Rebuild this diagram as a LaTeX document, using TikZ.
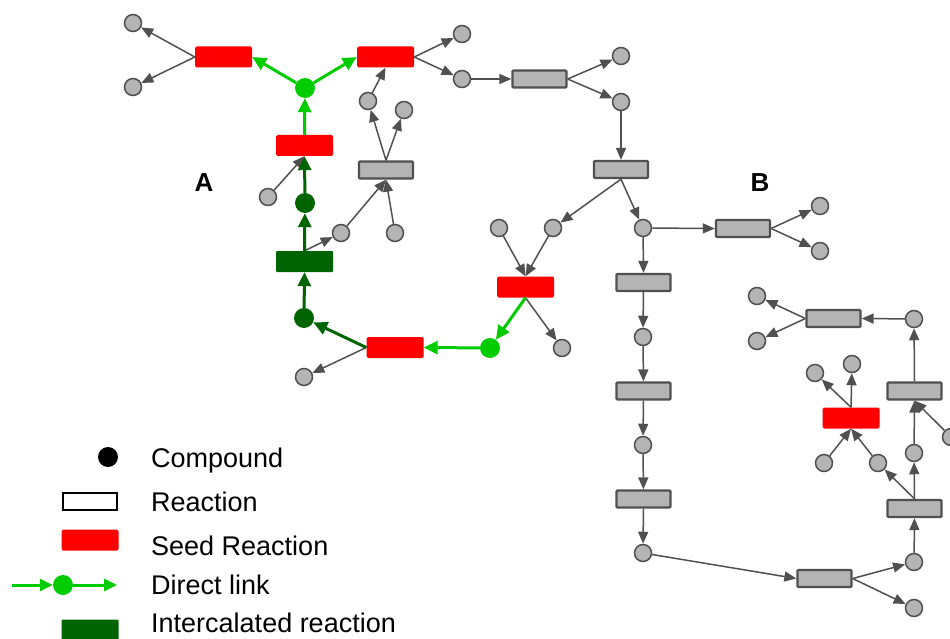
\documentclass[tikz,border=0pt]{standalone}
\usepackage{fontspec}
\setmainfont{Liberation Sans}
\usetikzlibrary{arrows.meta}
\definecolor{cgray}{RGB}{180,180,180}
\definecolor{cline}{RGB}{80,80,80}
\definecolor{seedred}{RGB}{255,0,0}
\definecolor{lgreen}{RGB}{0,204,0}
\definecolor{dgreen}{RGB}{0,100,0}
\begin{document}
\begin{tikzpicture}[x=1pt,y=-1pt,
  cpd/.style={circle,draw=cline,fill=cgray,line width=1.5pt,minimum size=17pt,inner sep=0pt},
  gcpd/.style={circle,fill=lgreen,minimum size=20pt,inner sep=0pt},
  dcpd/.style={circle,fill=dgreen,minimum size=20pt,inner sep=0pt},
  rxn/.style={rectangle,draw=cline,fill=cgray,line width=2.3pt,minimum width=54pt,minimum height=17pt,inner sep=0pt,rounded corners=1pt},
  seed/.style={rectangle,fill=seedred,minimum width=57pt,minimum height=21pt,inner sep=0pt,rounded corners=1.5pt},
  interc/.style={rectangle,fill=dgreen,minimum width=57pt,minimum height=21pt,inner sep=0pt,rounded corners=1pt},
  arr/.style={draw=cline,line width=1.5pt,-{Triangle[length=12pt,width=10pt]}},
  garr/.style={draw=lgreen,line width=3pt,-{Triangle[length=14pt,width=13pt]}},
  darr/.style={draw=dgreen,line width=3pt,-{Triangle[length=14pt,width=13pt]}},
  legtext/.style={anchor=base west,inner sep=0pt,font=\fontsize{27}{30}\selectfont},
  panel/.style={font=\bfseries\fontsize{26}{28}\selectfont,inner sep=0pt}
]
\clip (0,0) rectangle (950,639);

% ---- compounds and reactions of module A ----
\node[cpd] (c1) at (133,23) {};
\node[cpd] (c2) at (133,87) {};
\node[seed] (R1) at (223.5,57) {};
\node[seed] (R2) at (385.5,57) {};
\node[gcpd] (G1) at (305,88) {};
\node[seed] (R3) at (304.5,145.5) {};
\node[cpd] (c3) at (462,34) {};
\node[cpd] (c4) at (462,79) {};
\node[cpd] (c5) at (368,101) {};
\node[cpd] (c6) at (404,110) {};
\node[rxn] (R4) at (386,170) {};
\node[cpd] (c7) at (268,197) {};
\node[dcpd] (D1) at (305,203) {};
\node[cpd] (c8) at (341,233) {};
\node[cpd] (c9) at (395,233) {};
\node[interc] (IR) at (304.5,261.5) {};
\node[dcpd] (D2) at (304,318) {};
\node[seed] (R5) at (395,347.5) {};
\node[cpd] (c10) at (304,377) {};
\node[gcpd] (G2) at (490,348) {};
\node[seed] (R6) at (525.5,287) {};
\node[cpd] (c11) at (562,348) {};
\node[cpd] (c12) at (499,228) {};
\node[cpd] (c13) at (553,228) {};

% ---- the path towards module B ----
\node[rxn] (R7) at (539.5,79) {};
\node[cpd] (c14) at (621,56) {};
\node[cpd] (c15) at (621,102) {};
\node[rxn] (R8) at (621,169.5) {};
\node[cpd] (c16) at (643,228) {};
\node[rxn] (R9) at (743,228.5) {};
\node[cpd] (c17) at (820,206) {};
\node[cpd] (c18) at (820,251) {};
\node[rxn] (R10) at (643.5,282.5) {};
\node[cpd] (c19) at (643,337) {};
\node[rxn] (R11) at (643.5,391) {};
\node[cpd] (c20) at (643,445) {};
\node[rxn] (R12) at (643.5,499) {};
\node[cpd] (c21) at (643,553) {};
\node[rxn] (R13) at (824.5,578.5) {};
\node[cpd] (c22) at (914,562) {};
\node[cpd] (c23) at (914,608) {};
\node[rxn] (R14) at (914.5,508.5) {};
\node[cpd] (c24) at (914,453) {};
\node[cpd] (c25) at (878,463) {};
\node[cpd] (c26) at (951,437) {};
\node[rxn] (R15) at (914.5,391) {};
\node[cpd] (c27) at (914,319) {};
\node[rxn] (R16) at (833.5,318.5) {};
\node[cpd] (c28) at (757,296) {};
\node[cpd] (c29) at (757,341) {};
\node[seed] (R17) at (851,418) {};
\node[cpd] (c30) at (815,373) {};
\node[cpd] (c31) at (852,364) {};
\node[cpd] (c32) at (824,463) {};

% ---- panel letters ----
\node[panel] (lA) at (204,183) {A};
\node[panel] (lB) at (760,183) {B};

% ---- gray connectors ----
\draw[arr] (R1.west) -- (c1);
\draw[arr] (R1.west) -- (c2);
\draw[arr] (R2.east) -- (c3);
\draw[arr] (R2.east) -- (c4);
\draw[arr] (R4.north) -- (c5);
\draw[arr] (R4.north) -- (c6);
\draw[arr] (c5) -- (R2.south);
\draw[arr] (c7) -- (R3.south);
\draw[arr] (IR.north) -- (c8);
\draw[arr] (c8) -- (R4.south);
\draw[arr] (c9) -- (R4.south);
\draw[arr] (R5.west) -- (c10);
\draw[arr] (R6.south) -- (c11);
\draw[arr] (c12) -- (R6.north);
\draw[arr] (c13) -- (R6.north);
\draw[arr] (c4) -- (R7.west);
\draw[arr] (R7.east) -- (c14);
\draw[arr] (R7.east) -- (c15);
\draw[arr] (c15) -- (R8.north);
\draw[arr] (R8.south) -- (c13);
\draw[arr] (R8.south) -- (c16);
\draw[arr] (c16) -- (R9.west);
\draw[arr] (R9.east) -- (c17);
\draw[arr] (R9.east) -- (c18);
\draw[arr] (c16) -- (R10.north);
\draw[arr] (R10) -- (c19);
\draw[arr] (c19) -- (R11);
\draw[arr] (R11) -- (c20);
\draw[arr] (c20) -- (R12);
\draw[arr] (R12) -- (c21);
\draw[arr] (c21) -- (R13.west);
\draw[arr] (R13.east) -- (c22);
\draw[arr] (R13.east) -- (c23);
\draw[arr] (c22) -- (R14.south);
\draw[arr] (R14.north) -- (c24);
\draw[arr] (R14.north) -- (c25);
\draw[arr] (c24) -- (R15.south);
\draw[arr] (c26) -- (R15.south);
\draw[arr] (R15.north) -- (c27);
\draw[arr] (c27) -- (R16.east);
\draw[arr] (R16.west) -- (c28);
\draw[arr] (R16.west) -- (c29);
\draw[arr] (R17.north) -- (c30);
\draw[arr] (R17.north) -- (c31);
\draw[arr] (c32) -- (R17.south);
\draw[arr] (c25) -- (R17.south);

% ---- direct links and intercalated path ----
\draw[garr] (G1) -- (R1.east);
\draw[garr] (G1) -- (R2.west);
\draw[garr] (R3.north) -- (G1);
\draw[darr] (D1) -- (R3.south);
\draw[darr] (IR.north) -- (D1);
\draw[darr] (D2) -- (IR.south);
\draw[darr] (R5.west) -- (D2);
\draw[garr] (G2) -- (R5.east);
\draw[garr] (R6.south) -- (G2);

% ---- legend ----
\node[circle,fill=black,minimum size=20pt,inner sep=0pt] (kc) at (108,457) {};
\node[rectangle,draw=black,fill=white,line width=2pt,minimum width=54pt,minimum height=17pt,inner sep=0pt] (kr) at (90,501) {};
\node[seed] (ks) at (90,540) {};
\coordinate (kd0) at (12,585);
\node[gcpd] (kg) at (63,585) {};
\coordinate (kd1) at (117,585);
\node[interc] (ki) at (90,630) {};
\draw[garr,-{Triangle[length=13pt,width=12pt]}] (kd0) -- (kg.west);
\draw[garr,-{Triangle[length=13pt,width=12pt]}] (kg.east) -- (kd1);
\node[legtext] (t1) at (151,467) {Compound};
\node[legtext] (t2) at (151,511) {Reaction};
\node[legtext] (t3) at (151,555) {Seed Reaction};
\node[legtext] (t4) at (151,594) {Direct link};
\node[legtext] (t5) at (151,632) {Intercalated reaction};
\end{tikzpicture}
\end{document}
